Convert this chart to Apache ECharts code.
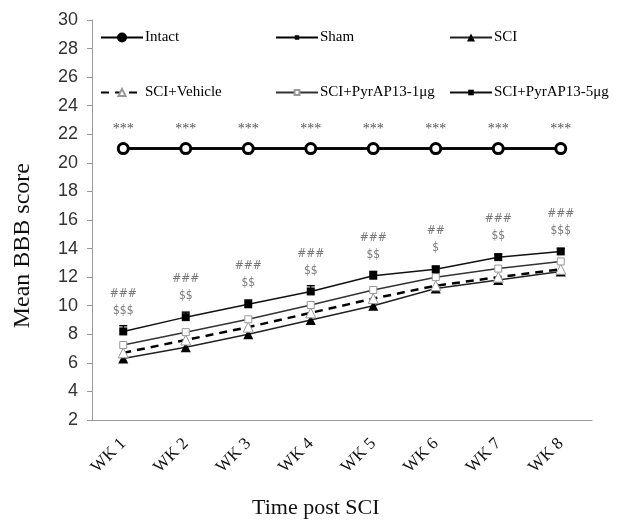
<!DOCTYPE html>
<html><head><meta charset="utf-8">
<script src="https://cdn.jsdelivr.net/npm/echarts@6/dist/echarts.min.js"></script>
<style>html,body{margin:0;padding:0;background:#fff}#c{width:643px;height:522px}</style>
</head><body><div id="c"></div>
<script>
var weeks = ['WK 1','WK 2','WK 3','WK 4','WK 5','WK 6','WK 7','WK 8'];
var intact = [21,21,21,21,21,21,21,21];
var sham = [21,21,21,21,21,21,21,21];
var sci = [6.3,7.1,8.0,9.0,10.0,11.2,11.8,12.4];
var vehicle = [6.7,7.6,8.5,9.5,10.5,11.4,12.0,12.55];
var pyr1 = [7.25,8.15,9.05,10.05,11.1,12.0,12.6,13.1];
var pyr5 = [8.2,9.2,10.1,11.0,12.1,12.55,13.4,13.8];
var pyr5Err = [0.4,0.35,0.3,0.4,0.3,0.2,0.2,0.2];
var starMarks = ['***','***','***','***','***','***','***','***'];
var hashMarks = ['###','###','###','###','###','##','###','###'];
var dollarMarks = ['$$$','$$','$$','$$','$$','$','$$','$$$'];

var serif = 'Liberation Serif';
var chart = echarts.init(document.getElementById('c'));
function lg(item, left, top, h){
  return {data:[item], left:left, top:top, itemWidth:42, itemHeight:h||9, itemGap:0,
    textStyle:{fontFamily:serif, fontSize:15, color:'#000', padding:[0,0,0,-3]}};
}
var option = {
  animation:false,
  grid:{left:92, right:51, top:20, bottom:102},
  legend:[lg({name:'Intact', itemStyle:{color:'#000', borderColor:'#000'}},95,25,10),
          lg({name:'Sham'},270,25,3),
          lg({name:'SCI'},444,25,10),
          lg({name:'SCI+Vehicle'},95,80,9),
          lg({name:'SCI+PyrAP13-1μg'},270,80,6),
          lg({name:'SCI+PyrAP13-5μg'},444,80,7)],
  xAxis:{type:'category', data:weeks, boundaryGap:true,
    axisLine:{lineStyle:{color:'#999', width:1}},
    axisTick:{alignWithLabel:true, length:5, lineStyle:{color:'#999'}},
    axisLabel:{rotate:45, fontFamily:serif, fontSize:17, color:'#111', margin:21}},
  yAxis:{type:'value', min:2, max:30, interval:2,
    axisLine:{show:true, lineStyle:{color:'#999', width:1}},
    axisTick:{show:true, length:5, lineStyle:{color:'#999'}},
    splitLine:{show:false},
    axisLabel:{fontFamily:'Liberation Sans', fontSize:18, color:'#333', margin:14}},
  graphic:[
    {type:'text', left:11, top:163, style:{text:'Mean BBB score', font:'24px "Liberation Serif"', fill:'#111'}, rotation:Math.PI/2, originX:0, originY:0},
    {type:'text', left:252, top:497, style:{text:'Time post SCI', font:'22px "Liberation Serif"', fill:'#111'}}
  ],
  series:[
    {name:'Sham', type:'line', data:sham, symbol:'rect', symbolSize:[4,2],
      lineStyle:{color:'#000', width:2.5}, itemStyle:{color:'#fff', borderColor:'#000', borderWidth:0.5}, z:2},
    {name:'Intact', type:'line', data:intact, symbol:'circle', symbolSize:10,
      lineStyle:{color:'#000', width:2.5}, itemStyle:{color:'#fff', borderColor:'#000', borderWidth:3}, z:3,
      label:{show:true, position:'top', distance:6, formatter:function(p){return starMarks[p.dataIndex];},
        fontFamily:serif, fontSize:14, color:'#555'}},
    {name:'SCI', type:'line', data:sci, symbol:'triangle', symbolSize:10,
      lineStyle:{color:'#222', width:1.5}, itemStyle:{color:'#000'}},
    {name:'SCI+Vehicle', type:'line', data:vehicle, symbol:'triangle', symbolSize:10,
      lineStyle:{color:'#000', width:2.5, type:[8,6]}, itemStyle:{color:'#fff', borderColor:'#999', borderWidth:1}},
    {name:'SCI+PyrAP13-1μg', type:'line', data:pyr1, symbol:'rect', symbolSize:7,
      lineStyle:{color:'#333', width:1.5}, itemStyle:{color:'#fff', borderColor:'#999', borderWidth:1}},
    {name:'SCI+PyrAP13-5μg', type:'line', data:pyr5, symbol:'rect', symbolSize:8,
      lineStyle:{color:'#111', width:1.5}, itemStyle:{color:'#000'}, z:4},
    {name:'err5', type:'custom', z:3,
      data:pyr5.map(function(v,i){return [i, v, v+pyr5Err[i]];}),
      renderItem:function(params, api){
        var p0 = api.coord([api.value(0), api.value(1)]);
        var p1 = api.coord([api.value(0), api.value(2)]);
        return {type:'group', children:[
          {type:'line', shape:{x1:p0[0], y1:p0[1], x2:p1[0], y2:p1[1]}, style:{stroke:'#000', lineWidth:1.2}},
          {type:'line', shape:{x1:p1[0]-4, y1:p1[1], x2:p1[0]+4, y2:p1[1]}, style:{stroke:'#000', lineWidth:1.5}}
        ]};
      }},
    {name:'sig', type:'scatter', data:pyr5, symbol:'circle', symbolSize:1, itemStyle:{color:'rgba(0,0,0,0)'}, z:5,
      label:{show:true, position:'top', distance:12,
        formatter:function(p){return hashMarks[p.dataIndex]+'\n'+dollarMarks[p.dataIndex];},
        fontFamily:'DejaVu Sans Condensed, Liberation Sans', fontSize:12, lineHeight:17, color:'#555'}}
  ]
};
chart.setOption(option);
</script></body></html>
